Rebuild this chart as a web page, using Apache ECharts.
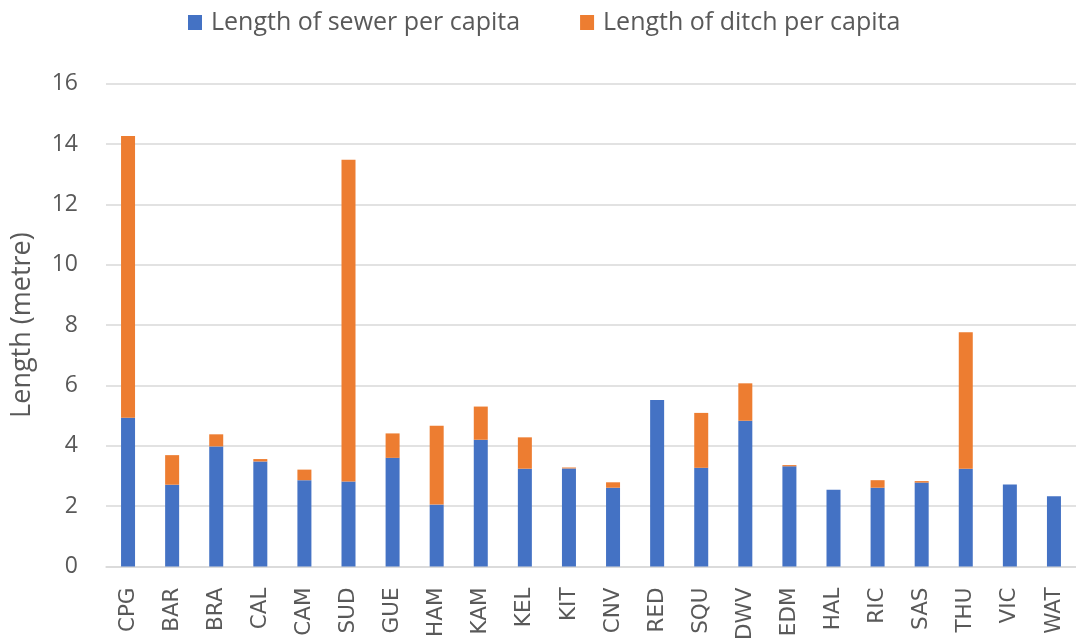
<!DOCTYPE html>
<html>
<head>
<meta charset="utf-8">
<script src="https://cdn.jsdelivr.net/npm/echarts@6/dist/echarts.min.js"></script>
<style>html,body{margin:0;padding:0;background:#fff;}#chart{width:1076px;height:643px;}</style>
</head>
<body>
<div id="chart"></div>
<script>
const categories = ['CPG','BAR','BRA','CAL','CAM','SUD','GUE','HAM','KAM','KEL','KIT','CNV','RED','SQU','DWV','EDM','HAL','RIC','SAS','THU','VIC','WAT'];
const sewer = [4.93,2.71,3.98,3.48,2.86,2.82,3.60,2.05,4.20,3.24,3.25,2.61,5.52,3.27,4.83,3.32,2.54,2.61,2.78,3.24,2.72,2.33];
const ditch = [9.34,0.98,0.40,0.08,0.35,10.66,0.81,2.61,1.10,1.04,0.03,0.18,0,1.82,1.24,0.04,0,0.25,0.05,4.52,0,0];
const yTicks = {min:0, max:16, interval:2};
const seriesNames = ['Length of sewer per capita','Length of ditch per capita'];

const chart = echarts.init(document.getElementById('chart'));
const uiFont = "'Open Sans','Noto Sans',sans-serif";
chart.setOption({
  animation:false,
  color:['#4472C4','#ED7D31'],
  legend:{
    top:5, left:183, itemGap:60, itemWidth:14, itemHeight:15,
    icon:'rect',
    textStyle:{fontFamily:uiFont, fontSize:25, color:'#595959', padding:[0,0,0,4]},
    data:seriesNames
  },
  grid:{left:106, width:975, top:83.7, bottom:75, containLabel:false},
  xAxis:{
    type:'category', data:categories,
    axisLine:{lineStyle:{color:'#d9d9d9', width:1.5}},
    axisTick:{show:false},
    axisLabel:{rotate:90, fontSize:21.5, color:'#595959', fontFamily:"'DejaVu Sans',sans-serif", margin:21, interval:0}
  },
  yAxis:{
    type:'value', min:yTicks.min, max:yTicks.max, interval:yTicks.interval,
    name:'Length (metre)', nameLocation:'middle', nameGap:70, nameRotate:90,
    nameTextStyle:{fontSize:27, color:'#595959', fontFamily:uiFont},
    axisLine:{show:false}, axisTick:{show:false},
    axisLabel:{fontSize:23, color:'#595959', fontFamily:uiFont, margin:28},
    splitLine:{lineStyle:{color:'#d9d9d9', width:1.5}}
  },
  series:[
    {name:seriesNames[0], type:'bar', stack:'t', data:sewer, barWidth:14},
    {name:seriesNames[1], type:'bar', stack:'t', data:ditch, barWidth:14}
  ]
});
</script>
</body>
</html>
